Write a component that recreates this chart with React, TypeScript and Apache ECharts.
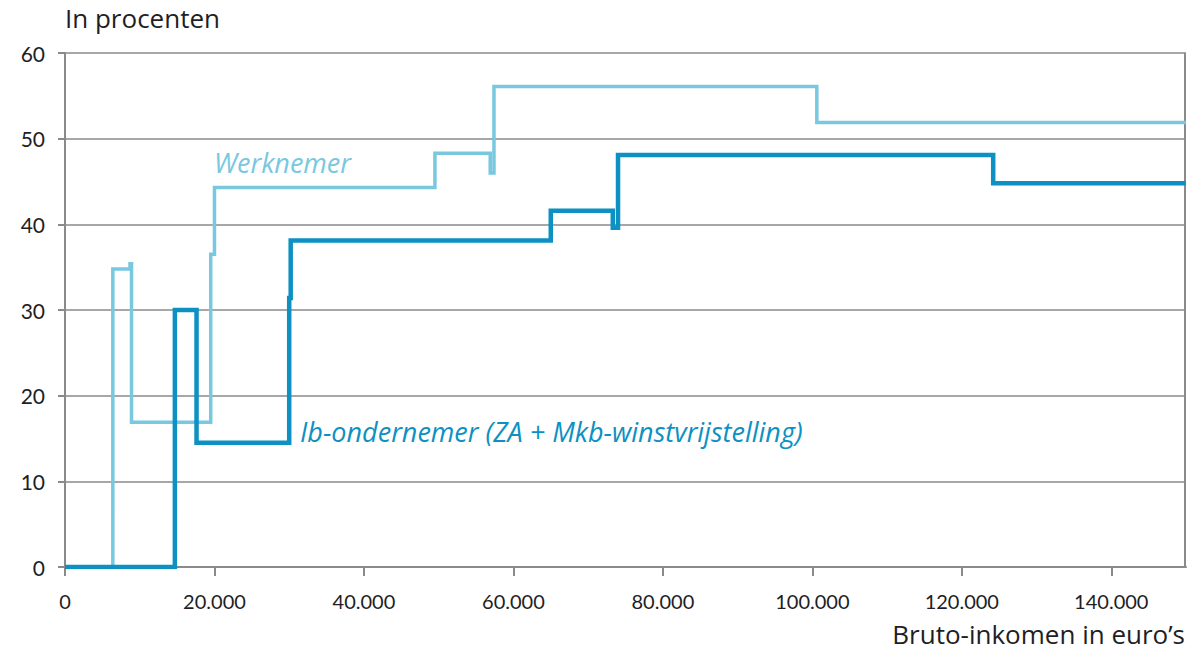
import React, { useEffect, useRef } from "react";
import * as echarts from "echarts";

// Step breakpoints (euro) and level (percent) for each segment [x_i, x_{i+1})
const werknemerX = [0, 6400, 8700, 8900, 19500, 20000, 49500, 56900, 57400, 100600, 150000];
const werknemerY = [0, 34.8, 35.4, 16.9, 36.5, 44.3, 48.3, 46.0, 56.1, 51.9];

const ondernemerX = [0, 14700, 17600, 30000, 30200, 65000, 73300, 74000, 124200, 150000];
const ondernemerY = [0, 30.0, 14.5, 31.4, 38.1, 41.6, 39.6, 48.1, 44.8];

const xTicks = [0, 20000, 40000, 60000, 80000, 100000, 120000, 140000];
const yTicks = [0, 10, 20, 30, 40, 50, 60];

const LIGHT = "#78c8df";
const DARK = "#0d90c2";
const TEXT = "#1e1e24";
const GRID = "#8a8a8a";
const FONT = "Lato, 'Open Sans', sans-serif";
const WIDE = "'Open Sans', Lato, sans-serif";

function steps(xs: number[], ys: number[]): number[][] {
  const out: number[][] = [];
  for (let i = 0; i < ys.length; i++) {
    out.push([xs[i], ys[i]]);
    out.push([xs[i + 1], ys[i]]);
  }
  return out;
}

function fmt(v: number): string {
  if (v === 0) return "0";
  const s = String(v);
  return s.replace(/\B(?=(\d{3})+(?!\d))/g, ".");
}

export default function App() {
  const ref = useRef<HTMLDivElement>(null);
  useEffect(() => {
    if (!ref.current) return;
    const chart = echarts.init(ref.current, null, { renderer: "svg" });
    chart.setOption({
      animation: false,
      backgroundColor: "#ffffff",
      grid: { left: 65, right: 11, top: 53, bottom: 84 },
      xAxis: {
        type: "value",
        min: 0,
        max: 150000,
        interval: 20000,
        axisLine: { show: true, lineStyle: { color: GRID, width: 2 } },
        axisTick: { show: true, length: 9, lineStyle: { color: GRID, width: 2 } },
        splitLine: { show: false },
        axisLabel: {
          color: TEXT,
          fontFamily: FONT,
          fontSize: 20,
          margin: 24,
          showMaxLabel: false,
          formatter: (v: number) => (xTicks.includes(v) ? fmt(v) : ""),
        },
      },
      yAxis: {
        type: "value",
        min: 0,
        max: 60,
        interval: 10,
        axisLine: { show: true, lineStyle: { color: GRID, width: 2 } },
        axisTick: { show: true, length: 7, lineStyle: { color: GRID, width: 2 } },
        splitLine: { show: true, lineStyle: { color: GRID, width: 1.5 } },
        axisLabel: {
          color: TEXT,
          fontFamily: FONT,
          fontSize: 21,
          margin: 20,
          formatter: (v: number) => (yTicks.includes(v) ? String(v) : ""),
        },
      },
      graphic: [
        {
          type: "line",
          shape: { x1: 1185, y1: 53, x2: 1185, y2: 567 },
          style: { stroke: GRID, lineWidth: 2 },
          z: 1,
        },
        {
          type: "text",
          left: 65,
          top: 5,
          style: { text: "In procenten", fill: TEXT, font: `26px ${WIDE}` },
        },
        {
          type: "text",
          right: 12,
          top: 621,
          style: { text: "Bruto-inkomen in euro’s", fill: TEXT, font: `26px ${WIDE}` },
        },
        {
          type: "text",
          left: 214,
          top: 149,
          style: { text: "Werknemer", fill: LIGHT, font: `italic 27px ${WIDE}` },
        },
        {
          type: "text",
          left: 300,
          top: 418,
          style: {
            text: "Ib-ondernemer (ZA + Mkb-winstvrijstelling)",
            fill: DARK,
            font: `italic 27px ${WIDE}`,
          },
        },
      ],
      series: [
        {
          name: "Werknemer",
          type: "line",
          data: steps(werknemerX, werknemerY),
          showSymbol: false,
          lineStyle: { color: LIGHT, width: 3.5, join: "miter" },
          z: 3,
        },
        {
          name: "Ib-ondernemer",
          type: "line",
          data: steps(ondernemerX, ondernemerY),
          showSymbol: false,
          lineStyle: { color: DARK, width: 4.5, join: "miter" },
          z: 4,
        },
      ],
    });
    return () => chart.dispose();
  }, []);
  return (
    <div
      ref={ref}
      style={{ position: "fixed", left: 0, top: 0, width: 1197, height: 651 }}
    />
  );
}
